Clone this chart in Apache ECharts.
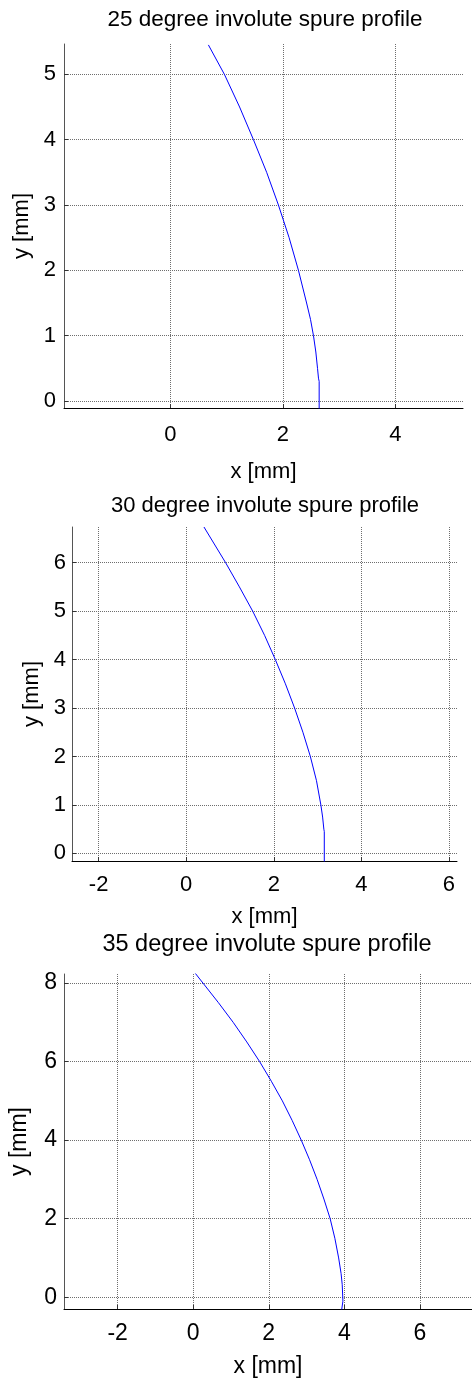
<!DOCTYPE html>
<html>
<head>
<meta charset="utf-8">
<script src="https://cdn.jsdelivr.net/npm/echarts@6/dist/echarts.min.js"></script>
<style>
html,body{margin:0;padding:0;background:#fff;}
#c{width:472px;height:1380px;}
</style>
</head>
<body>
<div id="c"></div>
<script>
// ---- data ----
var titles = ['25 degree involute spure profile', '30 degree involute spure profile', '35 degree involute spure profile'];
var xName = 'x [mm]';
var yName = 'y [mm]';

var x25 = [0.676, 0.96, 1.23, 1.476, 1.711, 1.92, 2.11, 2.276, 2.421, 2.49, 2.543, 2.585, 2.615, 2.632, 2.644, 2.644];
var y25 = [5.45, 5.0, 4.5, 4.0, 3.5, 3.0, 2.5, 2.0, 1.5, 1.25, 1.0, 0.75, 0.5, 0.35, 0.3, -0.15];

var x30 = [0.406, 0.90, 1.215, 1.518, 1.79, 2.035, 2.265, 2.475, 2.665, 2.835, 2.975, 3.075, 3.115, 3.143, 3.153, 3.153];
var y30 = [6.736, 6.0, 5.5, 5.0, 4.5, 4.0, 3.5, 3.0, 2.5, 2.0, 1.5, 1.0, 0.75, 0.5, 0.45, -0.2];

var x35 = [0.05, 0.258, 0.668, 1.058, 1.418, 1.758, 2.068, 2.36, 2.62, 2.86, 3.08, 3.28, 3.46, 3.625, 3.75, 3.85, 3.915, 3.945, 3.963, 3.93];
var y35 = [8.254, 8.0, 7.5, 7.0, 6.5, 6.0, 5.5, 5.0, 4.5, 4.0, 3.5, 3.0, 2.5, 2.0, 1.5, 1.0, 0.6, 0.32, -0.1, -0.32];

var xTicks25 = [0, 2, 4];
var yTicks25 = [0, 1, 2, 3, 4, 5];
var xTicks30 = [-2, 0, 2, 4, 6];
var yTicks30 = [0, 1, 2, 3, 4, 5, 6];
var xTicks35 = [-2, 0, 2, 4, 6];
var yTicks35 = [0, 2, 4, 6, 8];

function pairs(xs, ys) { return xs.map(function (v, i) { return [v, ys[i]]; }); }

var FONT = '"Liberation Sans", Arial, Helvetica, sans-serif';
var gridLine = { show: true, lineStyle: { color: '#6e6e6e', type: [1, 1], width: 1 } };

function xAx(idx, min, max, step, ticks, labelMargin, nameGap, fs) {
  return {
    type: 'value', gridIndex: idx, min: min, max: max, minInterval: step, maxInterval: step,
    name: xName, nameLocation: 'middle', nameGap: nameGap,
    nameTextStyle: { fontFamily: FONT, fontSize: fs, color: '#000' },
    axisLine: { show: true, onZero: false, lineStyle: { color: '#000', width: 1 } },
    axisTick: { show: true, inside: true, length: 4, customValues: ticks, lineStyle: { color: '#333' } },
    axisLabel: { show: true, customValues: ticks, margin: labelMargin, fontFamily: FONT, fontSize: fs, color: '#000' },
    splitLine: gridLine
  };
}
function yAx(idx, min, max, step, ticks, labelMargin, nameGap, fs) {
  return {
    type: 'value', gridIndex: idx, min: min, max: max, minInterval: step, maxInterval: step,
    name: yName, nameLocation: 'middle', nameGap: nameGap,
    nameTextStyle: { fontFamily: FONT, fontSize: fs, color: '#000' },
    axisLine: { show: true, onZero: false, lineStyle: { color: '#555', width: 1 } },
    axisTick: { show: true, inside: true, length: 4, customValues: ticks, lineStyle: { color: '#333' } },
    axisLabel: { show: true, customValues: ticks, margin: labelMargin, fontFamily: FONT, fontSize: fs, color: '#000' },
    splitLine: gridLine
  };
}
function ser(idx, xs, ys) {
  return {
    type: 'line', xAxisIndex: idx, yAxisIndex: idx, data: pairs(xs, ys),
    showSymbol: false, symbol: 'none', clip: true, animation: false,
    lineStyle: { color: '#0000ff', width: 1 }
  };
}

var chart = echarts.init(document.getElementById('c'), null, { renderer: 'canvas' });
chart.setOption({
  backgroundColor: '#fff',
  animation: false,
  title: [
    { text: titles[0], left: 265, top: 8, textAlign: 'center', padding: 0, textStyle: { fontFamily: FONT, fontSize: 22.5, fontWeight: 'normal', color: '#000' } },
    { text: titles[1], left: 265, top: 495, textAlign: 'center', padding: 0, textStyle: { fontFamily: FONT, fontSize: 22, fontWeight: 'normal', color: '#000' } },
    { text: titles[2], left: 267, top: 933, textAlign: 'center', padding: 0, textStyle: { fontFamily: FONT, fontSize: 23.5, fontWeight: 'normal', color: '#000' } }
  ],
  grid: [
    { left: 64, top: 44, width: 399, height: 364, containLabel: false },
    { left: 72, top: 527, width: 385, height: 334, containLabel: false },
    { left: 57, top: 974, width: 415, height: 335, containLabel: false }
  ],
  xAxis: [
    xAx(0, -1.89, 5.20, 2, xTicks25, 16, 53, 22),
    xAx(1, -2.607, 6.183, 2, xTicks30, 13, 45, 22),
    xAx(2, -3.42, 7.38, 2, xTicks35, 13, 46, 23)
  ],
  yAxis: [
    yAx(0, -0.107, 5.464, 1, yTicks25, 8, 31, 22),
    yAx(1, -0.157, 6.736, 1, yTicks30, 6, 29, 22),
    yAx(2, -0.30, 8.23, 2, yTicks35, 7, 33, 23)
  ],
  series: [ser(0, x25, y25), ser(1, x30, y30), ser(2, x35, y35)]
});
</script>
</body>
</html>
